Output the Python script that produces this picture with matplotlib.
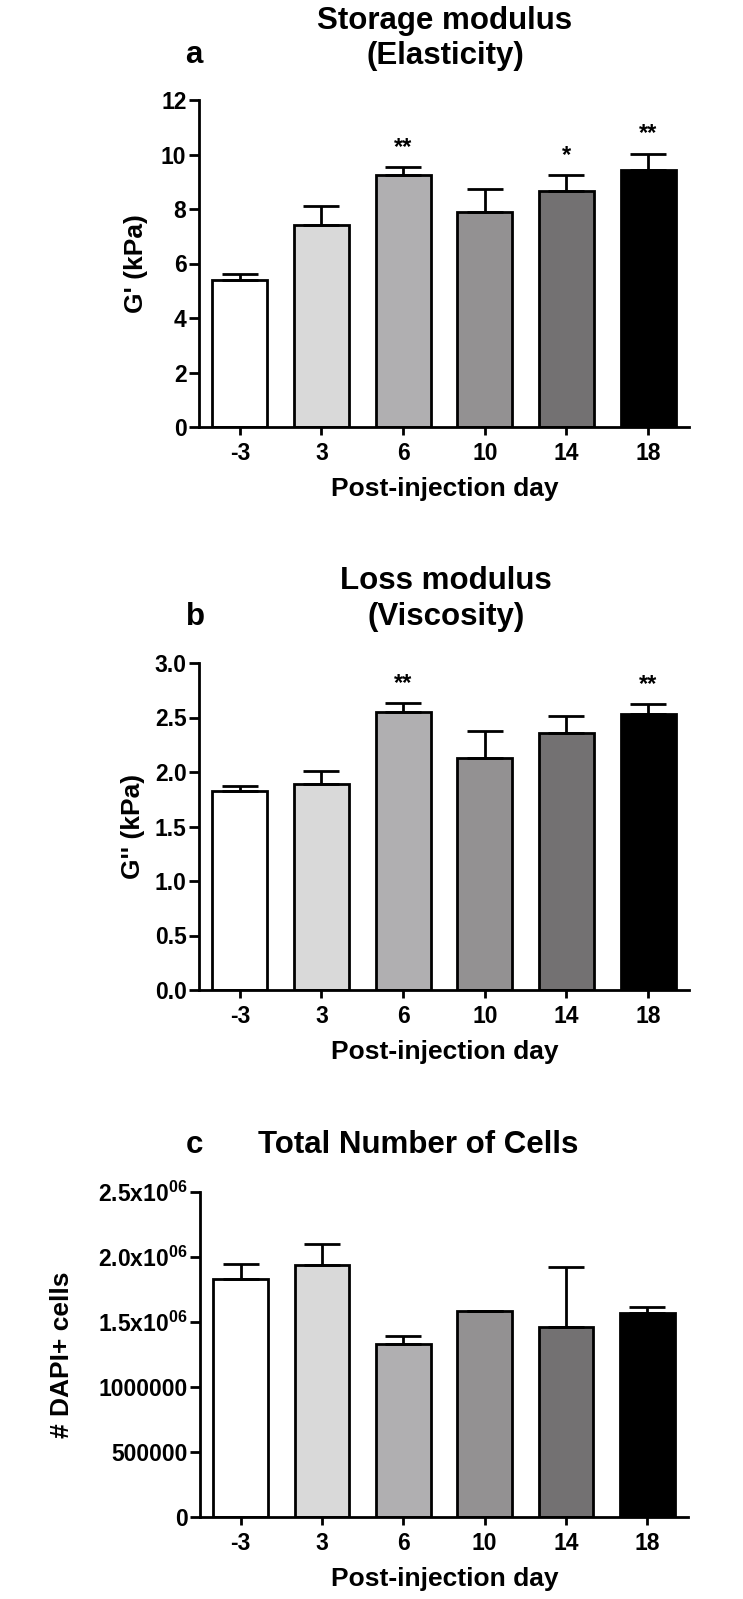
import matplotlib
matplotlib.use("Agg")
import matplotlib.pyplot as plt
import numpy as np

plt.rcParams['font.family'] = ['Liberation Sans', 'DejaVu Sans']
plt.rcParams['font.weight'] = 'bold'
plt.rcParams['mathtext.fontset'] = 'custom'
plt.rcParams['mathtext.rm'] = 'Liberation Sans'
plt.rcParams['mathtext.default'] = 'rm'

days = ["-3", "3", "6", "10", "14", "18"]
bar_colors = ["#ffffff", "#d9d9d9", "#b0afb1", "#939192", "#737172", "#000000"]

# Panel a: storage modulus (kPa)
g1_mean = [5.39, 7.42, 9.23, 7.89, 8.65, 9.43]
g1_err = [0.21, 0.70, 0.30, 0.84, 0.60, 0.60]
g1_stars = ["", "", "**", "", "*", "**"]

# Panel b: loss modulus (kPa)
g2_mean = [1.83, 1.89, 2.555, 2.13, 2.36, 2.53]
g2_err = [0.04, 0.12, 0.075, 0.245, 0.155, 0.095]
g2_stars = ["", "", "**", "", "", "**"]

# Panel c: DAPI+ cells
c_mean = [1.832e6, 1.936e6, 1.333e6, 1.583e6, 1.462e6, 1.569e6]
c_err = [0.115e6, 0.164e6, 0.061e6, 0.005e6, 0.460e6, 0.044e6]

a_ticks = [0, 2, 4, 6, 8, 10, 12]
b_ticks = [0.0, 0.5, 1.0, 1.5, 2.0, 2.5, 3.0]
b_ticklabels = ["0.0", "0.5", "1.0", "1.5", "2.0", "2.5", "3.0"]
c_ticks = [0, 500000, 1000000, 1500000, 2000000, 2500000]
c_ticklabels = ["0", "500000", "1000000", r"1.5x10$^{06}$", r"2.0x10$^{06}$", r"2.5x10$^{06}$"]

W, H = 743, 1599
fig = plt.figure(figsize=(W / 100, H / 100), dpi=100)

def ax_rect(left, right, top, bottom):
    return [left / W, 1 - bottom / H, (right - left) / W, (bottom - top) / H]

TICK_FS = 16.5
LAB_FS = 19
TITLE_FS = 22.5
LW = 2.0

def make_panel(rect, means, errs, ylim, yticks, yticklabels, ylabel, ylabel_x, stars=None):
    ax = fig.add_axes(rect)
    x = np.arange(len(days))
    ax.bar(x, means, width=0.674, color=bar_colors, edgecolor="black", linewidth=LW, zorder=2)
    ax.errorbar(x, means, yerr=[np.zeros(len(errs)), errs], fmt="none", ecolor="black",
                elinewidth=LW, capsize=13, capthick=LW, zorder=3)
    if stars:
        for xi, m, e, s in zip(x, means, errs, stars):
            if s:
                ax.annotate(s, (xi, m + e), xytext=(0, 6), textcoords="offset points",
                            ha="center", va="bottom", fontsize=17, fontweight="bold")
    ax.set_xlim(-0.5, 5.5)
    ax.set_ylim(*ylim)
    ax.set_xticks(x)
    ax.set_xticklabels(days)
    ax.set_yticks(yticks)
    ax.set_yticklabels(yticklabels)
    for s in ["top", "right"]:
        ax.spines[s].set_visible(False)
    for s in ["left", "bottom"]:
        ax.spines[s].set_linewidth(LW)
    ax.tick_params(axis="y", length=7, width=LW, pad=2, labelsize=TICK_FS)
    ax.tick_params(axis="x", length=6, width=LW, pad=5, labelsize=TICK_FS)
    for lab in ax.get_xticklabels() + ax.get_yticklabels():
        lab.set_fontweight("bold")
    ax.set_xlabel("Post-injection day", fontsize=LAB_FS, fontweight="bold", va="center")
    ax.xaxis.set_label_coords(0.502, -0.19)
    ax.set_ylabel(ylabel, fontsize=LAB_FS, fontweight="bold", va="center")
    ax.yaxis.set_label_coords(ylabel_x, 0.5)
    ax.patch.set_alpha(0)
    return ax

ax_a = make_panel(ax_rect(199, 689, 100, 427), g1_mean, g1_err, (0, 12), a_ticks,
                  [str(t) for t in a_ticks], "G' (kPa)", -0.129, g1_stars)
ax_b = make_panel(ax_rect(199, 689, 663, 990), g2_mean, g2_err, (0, 3.0), b_ticks,
                  b_ticklabels, "G'' (kPa)", -0.135, g2_stars)
ax_c = make_panel(ax_rect(200, 688, 1192, 1517), c_mean, c_err, (0, 2.5e6), c_ticks,
                  c_ticklabels, "# DAPI+ cells", -0.282)

def ftext(x, y, s, **kw):
    fig.text(x / W, 1 - y / H, s, ha="center", va="center", fontweight="bold", **kw)

ftext(445, 21, "Storage modulus", fontsize=TITLE_FS)
ftext(445, 56, "(Elasticity)", fontsize=TITLE_FS)
ftext(194, 55, "a", fontsize=TITLE_FS)

ftext(446, 581, "Loss modulus", fontsize=TITLE_FS)
ftext(446, 617, "(Viscosity)", fontsize=TITLE_FS)
ftext(195, 617, "b", fontsize=TITLE_FS)

ftext(418, 1145, "Total Number of Cells", fontsize=TITLE_FS)
ftext(194, 1145, "c", fontsize=TITLE_FS)

fig.savefig("out.png", dpi=100, facecolor="white")
